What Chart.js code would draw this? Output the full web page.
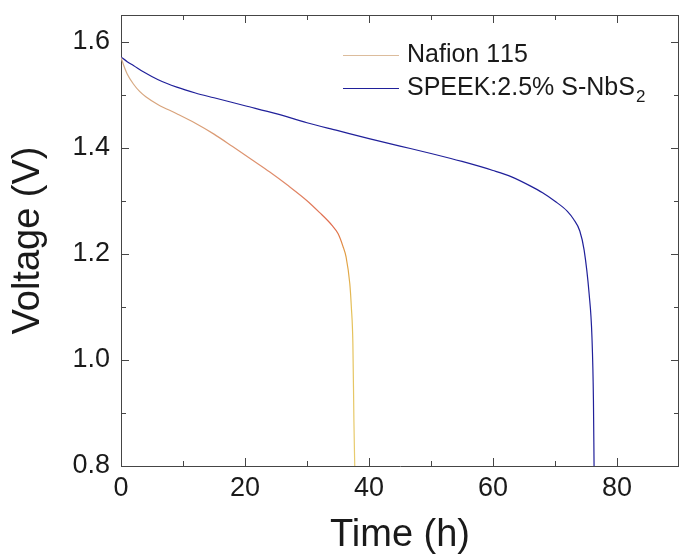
<!DOCTYPE html>
<html><head><meta charset="utf-8">
<script src="https://cdn.jsdelivr.net/npm/chart.js@4/dist/chart.umd.min.js"></script>
<style>html,body{margin:0;padding:0;background:#fff;}</style>
</head><body>
<canvas id="c" width="679" height="559"></canvas>
<script>
// ---- data ----
const nafionTime    = [0, 0.5, 1, 2, 3, 4, 6, 9, 12, 15, 18, 21, 24, 27, 30, 32, 34, 35, 35.8, 36.3, 36.9, 37.15, 37.4, 37.57, 37.7];
const nafionVoltage = [1.570, 1.553, 1.539, 1.520, 1.506, 1.496, 1.481, 1.464, 1.446, 1.4255, 1.402, 1.378, 1.354, 1.328, 1.300, 1.278, 1.254, 1.238, 1.214, 1.194, 1.144, 1.100, 1.031, 0.883, 0.800];
const speekTime     = [0, 1, 2, 3.6, 6, 9, 12, 15, 20, 25, 30, 35, 40, 45, 50, 55, 60, 63, 66, 68, 70, 72, 73, 74, 74.7, 75.5, 75.96, 76.2, 76.3];
const speekVoltage  = [1.571, 1.562, 1.555, 1.543, 1.528, 1.514, 1.503, 1.494, 1.479, 1.464, 1.447, 1.432, 1.417, 1.403, 1.389, 1.374, 1.357, 1.345, 1.328, 1.315, 1.299, 1.280, 1.265, 1.243, 1.207, 1.125, 1.043, 0.924, 0.800];
const seriesNames   = ['Nafion 115', 'SPEEK:2.5% S-NbS\u2082'];
const xMajorTicks   = [0, 20, 40, 60, 80];
const xMinorTicks   = [10, 30, 50, 70, 90];
const yMajorTicks   = [0.8, 1.0, 1.2, 1.4, 1.6];
const yMinorTicks   = [0.9, 1.1, 1.3, 1.5];
const xAxisTitle    = 'Time (h)';
const yAxisTitle    = 'Voltage (V)';

const FONT = "'Liberation Sans', Arial, sans-serif";
const TEXT = '#1a1a1a';
const AXIS = '#454545';
const SPEEK_COLOR = '#20209a';
const NAFION_LEGEND = '#dcbc9c';

function toXY(xs, ys){ return xs.map((x,i)=>({x:x, y:ys[i]})); }

function nafionGradient(context){
  const chart = context.chart;
  const {ctx, chartArea, scales} = chart;
  if (!chartArea) return '#d9a070';
  const y = scales.y;
  const p0 = y.getPixelForValue(1.58), p1 = y.getPixelForValue(0.8);
  const g = ctx.createLinearGradient(0, p0, 0, p1);
  const stops = [[1.58,'#d4b08a'],[1.45,'#d9a078'],[1.33,'#e08868'],[1.25,'#e0684a'],[1.2,'#e09c40'],[1.1,'#e4c058'],[0.8,'#e8cc70']];
  stops.forEach(s => g.addColorStop((y.getPixelForValue(s[0]) - p0)/(p1 - p0), s[1]));
  return g;
}

function noAutoPadding(s){ s.paddingTop = 0; s.paddingBottom = 0; s.paddingLeft = 0; s.paddingRight = 0; }

const framePlugin = {
  id: 'frame',
  afterDatasetsDraw(chart){
    const {ctx, chartArea:a, scales:{x, y}} = chart;
    ctx.save();
    ctx.strokeStyle = AXIS; ctx.lineWidth = 1;
    ctx.beginPath();
    ctx.moveTo(a.left, a.top + 0.5); ctx.lineTo(a.right, a.top + 0.5);
    ctx.moveTo(a.right - 0.5, a.top); ctx.lineTo(a.right - 0.5, a.bottom);
    const maj = 8, mnr = 5;
    xMajorTicks.forEach(v => { const px = Math.round(x.getPixelForValue(v)) + 0.5;
      ctx.moveTo(px, a.bottom); ctx.lineTo(px, a.bottom - maj);
      ctx.moveTo(px, a.top); ctx.lineTo(px, a.top + maj); });
    xMinorTicks.forEach(v => { const px = Math.round(x.getPixelForValue(v)) + 0.5;
      ctx.moveTo(px, a.bottom); ctx.lineTo(px, a.bottom - mnr);
      ctx.moveTo(px, a.top); ctx.lineTo(px, a.top + mnr); });
    yMajorTicks.forEach(v => { const py = Math.round(y.getPixelForValue(v)) + 0.5;
      ctx.moveTo(a.left, py); ctx.lineTo(a.left + maj, py);
      ctx.moveTo(a.right, py); ctx.lineTo(a.right - maj, py); });
    yMinorTicks.forEach(v => { const py = Math.round(y.getPixelForValue(v)) + 0.5;
      ctx.moveTo(a.left, py); ctx.lineTo(a.left + mnr, py);
      ctx.moveTo(a.right, py); ctx.lineTo(a.right - mnr, py); });
    ctx.stroke();
    ctx.restore();
  }
};

const legendPlugin = {
  id: 'customLegend',
  afterDraw(chart){
    const {ctx, chartArea:a} = chart;
    const x0 = a.left + 222, lineLen = 56, gap = 8;
    const rows = [a.top + 40, a.top + 73];
    const colors = [NAFION_LEGEND, SPEEK_COLOR];
    ctx.save();
    chart.data.datasets.forEach((ds, i) => {
      const yy = rows[i];
      ctx.strokeStyle = colors[i]; ctx.lineWidth = 1.2;
      ctx.beginPath(); ctx.moveTo(x0, yy + 0.5); ctx.lineTo(x0 + lineLen, yy + 0.5); ctx.stroke();
      let tx = x0 + lineLen + gap;
      ctx.fillStyle = TEXT; ctx.textBaseline = 'middle'; ctx.textAlign = 'left';
      for (const ch of ds.label) {
        if (ch === '\u2082') {
          ctx.font = '17px ' + FONT;
          ctx.fillText('2', tx + 1, yy + 9);
          tx += ctx.measureText('2').width + 1;
        } else {
          ctx.font = '25px ' + FONT;
          ctx.fillText(ch, tx, yy);
          tx += ctx.measureText(ch).width;
        }
      }
    });
    ctx.restore();
  }
};

new Chart(document.getElementById('c'), {
  type: 'line',
  data: {
    datasets: [
      { label: seriesNames[0], data: toXY(nafionTime, nafionVoltage), borderColor: nafionGradient,
        borderWidth: 1.2, pointRadius: 0, fill: false, cubicInterpolationMode: 'monotone' },
      { label: seriesNames[1], data: toXY(speekTime, speekVoltage), borderColor: SPEEK_COLOR,
        borderWidth: 1.2, pointRadius: 0, fill: false, cubicInterpolationMode: 'monotone' }
    ]
  },
  options: {
    responsive: false, animation: false, devicePixelRatio: 1,
    layout: { padding: { top: 15, left: 0, right: 0, bottom: 0 } },
    plugins: { legend: { display: false }, tooltip: { enabled: false } },
    scales: {
      x: {
        type: 'linear', min: 0, max: 90,
        afterFit(s){ s.height = 93; noAutoPadding(s); },
        ticks: { stepSize: 20, includeBounds: false, maxRotation: 0, padding: 6,
                 color: TEXT, font: { family: FONT, size: 27 } },
        grid: { display: false, drawTicks: false, tickLength: 0 },
        border: { display: true, color: AXIS, width: 1 },
        title: { display: true, text: xAxisTitle, color: TEXT,
                 font: { family: FONT, size: 38, lineHeight: 1 }, padding: { top: 0, bottom: 4 } }
      },
      y: {
        type: 'linear', min: 0.8, max: 1.65,
        afterFit(s){ s.width = 121; noAutoPadding(s); },
        ticks: { stepSize: 0.2, includeBounds: false, padding: 11, color: TEXT,
                 font: { family: FONT, size: 27 }, callback: v => Number(v).toFixed(1) },
        grid: { display: false, drawTicks: false, tickLength: 0 },
        border: { display: true, color: AXIS, width: 1 },
        title: { display: true, text: yAxisTitle, color: TEXT,
                 font: { family: FONT, size: 38, lineHeight: 1 }, padding: { top: 10, bottom: 0 } }
      }
    }
  },
  plugins: [framePlugin, legendPlugin]
});
</script>
</body></html>
